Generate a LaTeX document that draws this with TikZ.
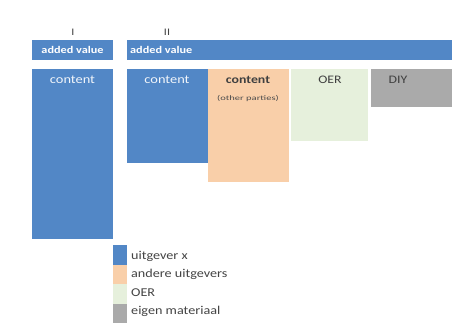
\documentclass[tikz,border=0pt]{standalone}
\usepackage{fontspec}
\setmainfont{Carlito}
\newfontfamily\widefont[FakeStretch=1.2]{Carlito}
\newfontfamily\legfont[FakeStretch=1.18]{Carlito}
\newfontfamily\tinyfont[FakeStretch=1.5]{Carlito}
\definecolor{ublue}{HTML}{5287C6}
\definecolor{uorange}{HTML}{F9CFA9}
\definecolor{ugreen}{HTML}{E6F0DC}
\definecolor{ugray}{HTML}{AAAAAA}
\definecolor{utext}{HTML}{444444}
\begin{document}
\begin{tikzpicture}[x=1pt,y=-1pt,
  wtxt/.style={text=white!92!ublue,font=\widefont\fontsize{12}{14}\selectfont},
  btxt/.style={text=white,font=\widefont\bfseries\fontsize{10.2}{12}\selectfont},
  dtxt/.style={text=black!75,font=\widefont\fontsize{11.5}{14}\selectfont},
  hdr/.style={text=utext,font=\widefont\fontsize{10}{12}\selectfont},
  lgtxt/.style={text=utext,anchor=west,font=\legfont\fontsize{12}{14}\selectfont,inner sep=0pt},
  sq/.style={inner sep=0pt,outer sep=0pt,minimum width=14pt,minimum height=19.5pt,anchor=north west}]
\useasboundingbox[fill=white] (0,0) rectangle (463,333);
% headers
\node[hdr] (hI) at (73,32) {I};
\node[hdr] (hII) at (167,32) {II};
% added value bars
\fill[ublue] (32,40) rectangle (113,60);
\node[btxt] (avI) at (72.5,50) {added value};
\fill[ublue] (127,40) rectangle (452,60);
\node[btxt,anchor=west,inner sep=0pt] (avII) at (130,50) {added value};
% column I
\fill[ublue] (32,69) rectangle (113,239);
\node[wtxt] (cI) at (72.5,80) {content};
% column II
\fill[ublue] (127,69) rectangle (208,163);
\node[wtxt] (cII) at (167,80) {content};
\fill[uorange] (208,69) rectangle (289,182);
\node[dtxt,font=\widefont\bfseries\fontsize{11.5}{14}\selectfont] (cO) at (248,80) {content};
\node[text=black!70,font=\tinyfont\fontsize{7}{8}\selectfont] (cOp) at (248,98) {(other parties)};
\fill[ugreen] (291,69) rectangle (368,141);
\node[dtxt] (oer) at (330,80) {OER};
\fill[ugray] (371,69) rectangle (452,107);
\node[dtxt] (diy) at (398,80) {DIY};
% legend
\node[sq,fill=ublue] (l1) at (113,245) {};
\node[sq,fill=uorange] (l2) at (113,264.5) {};
\node[sq,fill=ugreen] (l3) at (113,284) {};
\node[sq,fill=ugray] (l4) at (113,303.5) {};
\node[lgtxt] (t1) at (131,256) {uitgever x};
\node[lgtxt] (t2) at (131,274) {andere uitgevers};
\node[lgtxt] (t3) at (131,293) {OER};
\node[lgtxt] (t4) at (131,311) {eigen materiaal};
\end{tikzpicture}
\end{document}
